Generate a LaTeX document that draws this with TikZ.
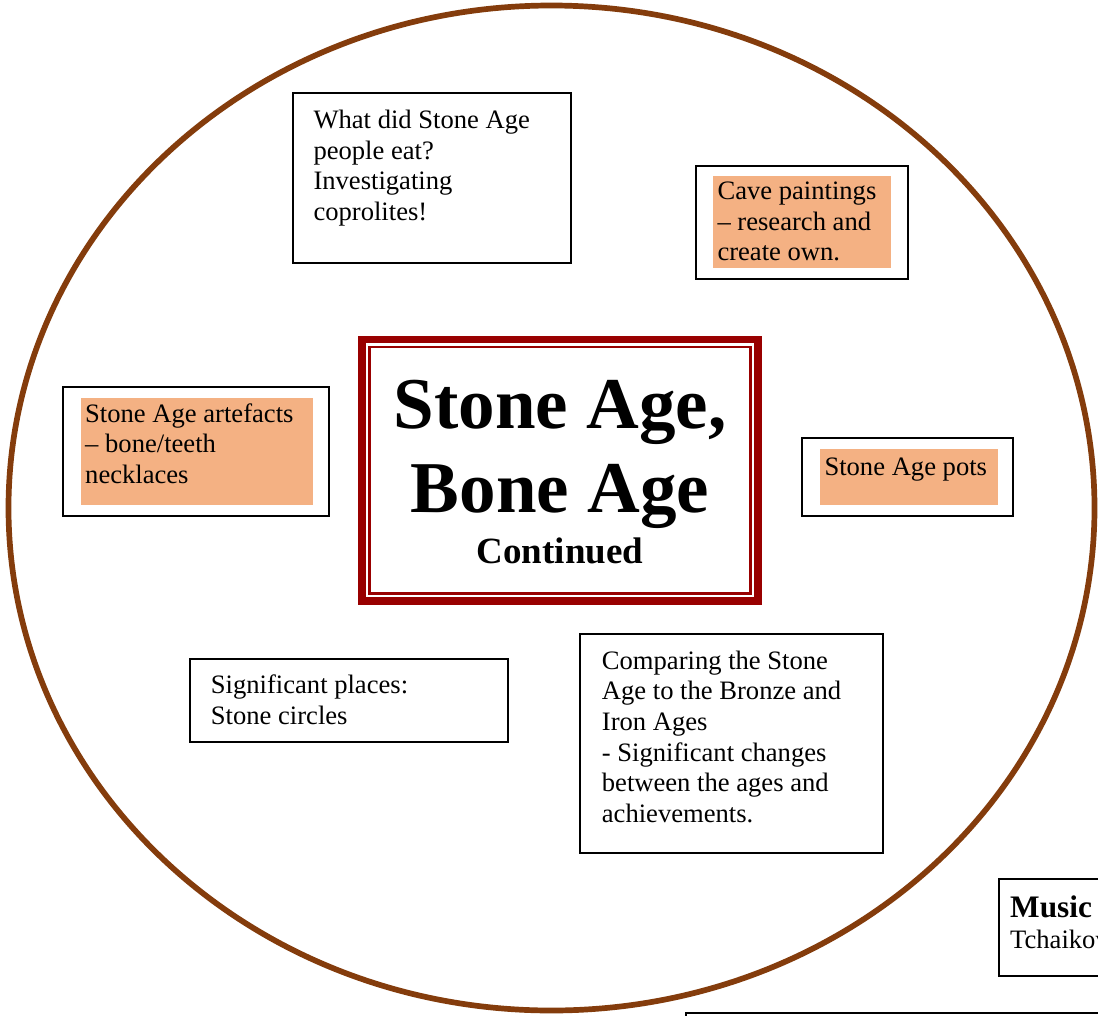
\documentclass[tikz,border=0pt]{standalone}
\usepackage{fontspec}
\setmainfont{Liberation Serif}
\definecolor{ringbrown}{HTML}{843C0C}
\definecolor{titlered}{HTML}{990000}
\definecolor{peach}{HTML}{F4B183}
\tikzset{
  topicbox/.style={draw=black, line width=2pt},
  peachfill/.style={fill=peach, draw=none},
  bodytext/.style={inner sep=0pt, anchor=base west, align=left,
    font=\fontsize{26.6}{30.7}\selectfont},
  titletext/.style={inner sep=0pt, anchor=base, font=\bfseries\fontsize{73}{80}\selectfont},
}
\begin{document}
\begin{tikzpicture}[x=1pt,y=-1pt]
\useasboundingbox (0,0) rectangle (1098,1015);
\clip (0,0) rectangle (1098,1015);
\fill[white] (0,0) rectangle (1098,1015);

% big ring
\draw[ringbrown, line width=5.7pt] (551.5,508) ellipse [x radius=543, y radius=502.5];

% central title box
\draw[titlered, line width=7.7pt] (361.9,339.6) rectangle (758.1,601.1);
\draw[titlered, line width=2.2pt] (369.5,347.2) rectangle (750.5,593.5);
\node[titletext] (t1) at (560,428.3) {Stone Age,};
\node[titletext] (t2) at (560,512.7) {Bone Age};
\node[titletext, font=\bfseries\fontsize{37}{40}\selectfont] (t3) at (560,563.3) {Continued};

% what did they eat (anchor = baseline of last line)
\draw[topicbox] (293.3,92.7) rectangle (570.7,263.3);
\node[bodytext] (eat) at (313.3,220.5) {What did Stone Age\\people eat?\\Investigating\\coprolites!};

% cave paintings
\draw[topicbox] (695.7,165.7) rectangle (907.7,279);
\fill[peachfill] (712.7,175.7) rectangle (891,267.7);
\node[bodytext] (cave) at (717.3,260.7) {Cave paintings\\– research and\\create own.};

% artefacts
\draw[topicbox] (63.3,386.7) rectangle (328.7,515.7);
\fill[peachfill] (80.7,398) rectangle (313.3,505);
\node[bodytext] (art) at (85,483.5) {Stone Age artefacts\\– bone/teeth\\necklaces};

% pots
\draw[topicbox] (802.3,438.3) rectangle (1013.3,515.7);
\fill[peachfill] (820,449) rectangle (998.3,505);
\node[bodytext] (pots) at (824.3,475.7) {Stone Age pots};

% significant places
\draw[topicbox] (190,659) rectangle (508.3,741.7);
\node[bodytext] (places) at (210.7,724.2) {Significant places:\\Stone circles};

% comparing
\draw[topicbox] (580,634) rectangle (882.7,852.7);
\node[bodytext] (comp) at (601.7,822.5) {Comparing the Stone\\Age to the Bronze and\\Iron Ages\\- Significant changes\\between the ages and\\achievements.};

% music (cut off at page edge, as in the reference)
\draw[topicbox] (999,879) rectangle (1130,975.7);
\node[bodytext, font=\bfseries\fontsize{31.3}{36}\selectfont] (music) at (1010,917.3) {Music};
\node[bodytext] (tchai) at (1010,948.3) {Tchaikovsky};

% box below (cut off at page edge)
\draw[topicbox] (686,1013.3) rectangle (1130,1100);
\end{tikzpicture}
\end{document}
